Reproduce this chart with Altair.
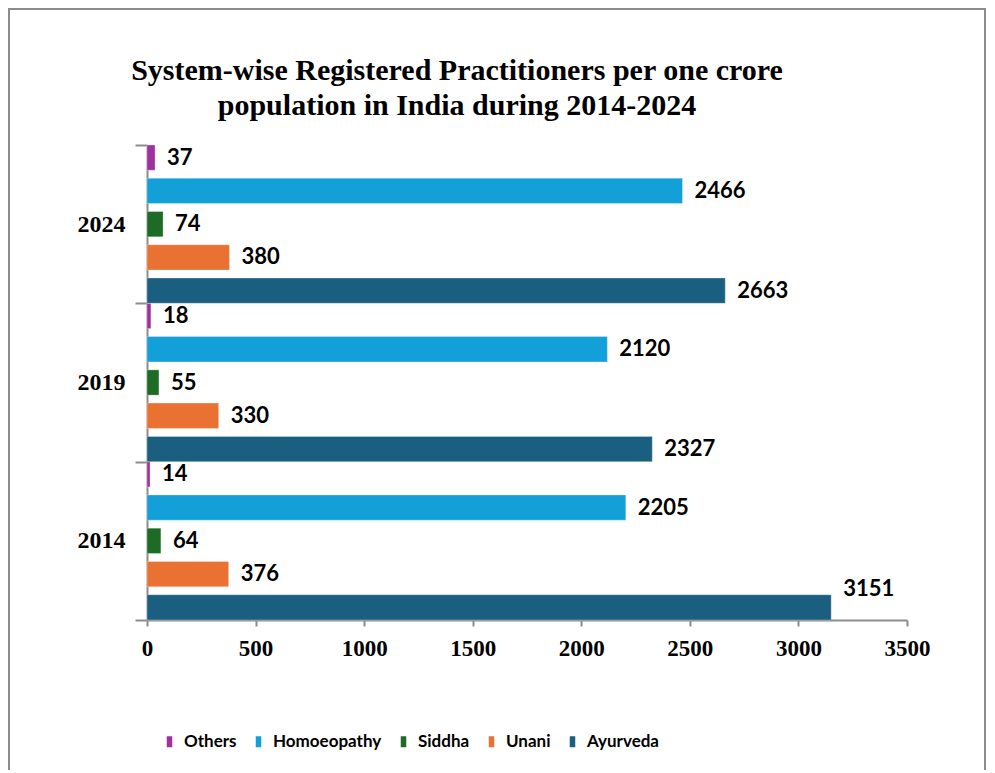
import altair as alt
import pandas as pd

years = ["2024", "2019", "2014"]
systems = ["Others", "Homoeopathy", "Siddha", "Unani", "Ayurveda"]
others = [37, 18, 14]
homoeopathy = [2466, 2120, 2205]
siddha = [74, 55, 64]
unani = [380, 330, 376]
ayurveda = [2663, 2327, 3151]
colors = ["#A0309E", "#139FD8", "#1D6B24", "#E97132", "#1A5F80"]
x_ticks = [0, 500, 1000, 1500, 2000, 2500, 3000, 3500]
title_lines = ["System-wise Registered Practitioners per one crore",
               "population  in India during 2014-2024"]

rows = []
for s, vals in zip(systems, [others, homoeopathy, siddha, unani, ayurveda]):
    for yr, v in zip(years, vals):
        rows.append({"Year": yr, "System": s, "Value": v})
df = pd.DataFrame(rows)

AX = "#8c8c8c"

base = alt.Chart(df).encode(
    y=alt.Y("Year:N", sort=years,
            scale=alt.Scale(paddingInner=0, paddingOuter=0),
            axis=alt.Axis(title=None, tickBand="extent", tickSize=12, tickWidth=2,
                          tickColor=AX, domainColor=AX, domainWidth=2,
                          labelFont="Liberation Serif", labelFontWeight="bold",
                          labelFontSize=24, labelColor="black", labelPadding=10)),
    yOffset=alt.YOffset("System:N", sort=systems,
                        scale=alt.Scale(domain=systems, paddingInner=0.24, paddingOuter=0)),
)

bars = base.mark_bar(stroke="white", strokeWidth=0.5, strokeOpacity=0.6).encode(
    x=alt.X("Value:Q", scale=alt.Scale(domain=[0, 3500], nice=False),
            axis=alt.Axis(title=None, values=x_ticks, format="d", grid=False, tickSize=6,
                          tickWidth=2, tickColor=AX, domainColor=AX, domainWidth=2,
                          labelFont="Liberation Serif", labelFontWeight="bold",
                          labelFontSize=23, labelColor="black", labelPadding=11,
                          labelFlush=False)),
    color=alt.Color("System:N", sort=systems,
                    scale=alt.Scale(domain=systems, range=colors),
                    legend=alt.Legend(title=None, orient="none", direction="horizontal",
                                      legendX=14, legendY=588, columns=5,
                                      columnPadding=13,
                                      symbolType="M-0.5,-1H0.5V1H-0.5Z",
                                      symbolSize=121, symbolStrokeWidth=0,
                                      labelFont="Lato", labelFontSize=17,
                                      labelFontWeight="bold", labelColor="black",
                                      labelOffset=6)),
)

label_enc = dict(x="Value:Q", text="Value:Q")
labels = base.mark_text(align="left", baseline="middle", dx=12, font="Lato",
                        fontSize=22, fontWeight="bold", color="black").encode(
    **label_enc).transform_filter(alt.datum.Value < 3000)
labels_hi = base.mark_text(align="left", baseline="middle", dx=12, dy=-18, font="Lato",
                           fontSize=22, fontWeight="bold", color="black").encode(
    **label_enc).transform_filter(alt.datum.Value >= 3000)

frame = alt.Chart(pd.DataFrame({"f": [0]})).mark_rect(
    fill="transparent", stroke="#8c8c8c", strokeWidth=2).encode(
    x=alt.value(-138), x2=alt.value(838), y=alt.value(-136), y2=alt.value(700))

chart = alt.layer(frame, bars, labels, labels_hi).properties(
    width=760, height=475,
    title=alt.Title(title_lines, font="Liberation Serif", fontSize=30,
                    fontWeight="bold", color="black", anchor="middle", dx=-70,
                    offset=0, dy=113, lineHeight=35),
    autosize=alt.AutoSizeParams(type="none"),
    padding={"left": 139, "top": 137, "right": 80, "bottom": 150},
).configure(background="white").configure_view(stroke=None)

chart.save("out.html", embed_options={"renderer": "svg", "actions": False})
